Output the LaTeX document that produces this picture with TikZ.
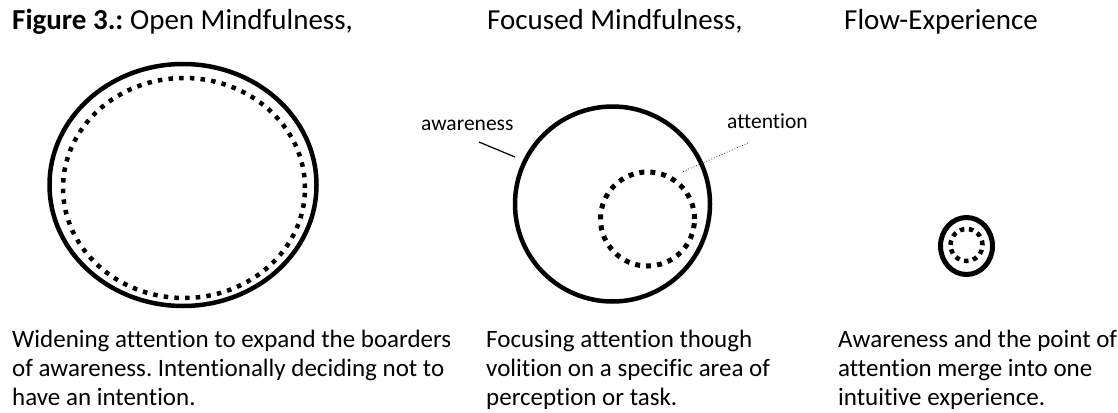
\documentclass[tikz,border=0pt]{standalone}
\usepackage{fontspec}
\setmainfont{Carlito}[Ligatures={NoCommon}]
\frenchspacing
\begin{document}
\begin{tikzpicture}[x=1pt,y=-1pt,
	ring/.style={line width=4.5pt},
	dotring/.style={line width=4.5pt, dash pattern=on 4.5pt off 6.2pt},
	head/.style={anchor=base west, inner sep=0pt, font=\fontsize{29}{35}\selectfont},
	note/.style={anchor=base west, inner sep=0pt, align=left, font=\fontsize{25}{29}\selectfont},
	tag/.style={anchor=base west, inner sep=0pt, font=\fontsize{21.5}{25}\selectfont}]
	\useasboundingbox (0,0) rectangle (1118,412);
	% headings
	\node[head] (hopen) at (12,30) {\textbf{Figure 3.:} Open Mindfulness,};
	\node[head] (hfocus) at (487,30) {Focused Mindfulness,};
	\node[head] (hflow) at (844,30) {Flow-Experience};
	% open mindfulness
	\draw[ring] (183,185) ellipse [x radius=133.5pt, y radius=121pt];
	\draw[dotring] (184,188) ellipse [x radius=121pt, y radius=110pt];
	% focused mindfulness
	\draw[ring] (612.5,204) circle [radius=97.5pt];
	\draw[dotring, line width=5pt, dash pattern=on 5pt off 6pt] (647.5,219) circle [radius=47pt];
	\node[tag] (aware) at (421,130) {awareness};
	\node[tag] (atten) at (727,128) {attention};
	\coordinate (awa) at (479,142);
	\coordinate (awb) at (515,157);
	\coordinate (ata) at (748,143);
	\coordinate (atb) at (682,172);
	\draw[line width=1.2pt] (awa) -- (awb);
	\draw[line width=0.8pt, dotted, black!80] (ata) -- (atb);
	% flow
	\draw[ring, line width=5pt] (966.5,246) ellipse [x radius=26pt, y radius=28.5pt];
	\draw[dotring, dash pattern=on 4.5pt off 4.6pt] (966.5,245) circle [radius=16pt];
	% notes (base = last line)
	\node[note] (nopen) at (12,405) {Widening attention to expand the boarders\\of awareness. Intentionally deciding not to\\have an intention.};
	\node[note] (nfocus) at (486,405) {Focusing attention though\\volition on a specific area of\\perception or task.};
	\node[note] (nflow) at (838,405) {Awareness and the point of\\attention merge into one\\intuitive experience.};
\end{tikzpicture}
\end{document}
